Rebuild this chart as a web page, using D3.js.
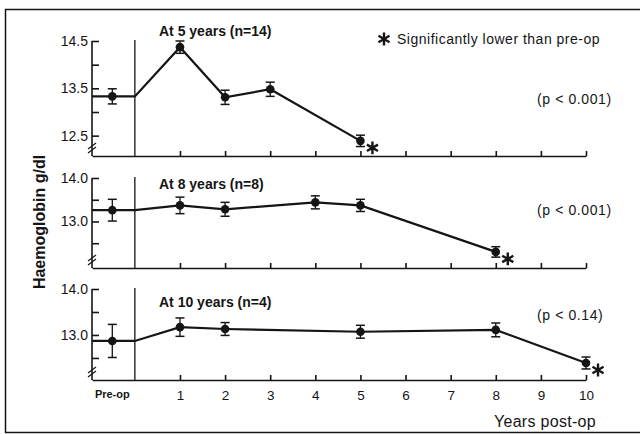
<!DOCTYPE html>
<html>
<head>
<meta charset="utf-8">
<script src="https://cdn.jsdelivr.net/npm/d3@7"></script>
<style>
  body { margin: 0; background: #fff; }
  svg { display: block; font-family: "Liberation Sans", Arial, sans-serif; }
</style>
</head>
<body>
<svg id="chart" width="640" height="434"></svg>
<script>
// x categories
const xTicks = [1, 2, 3, 4, 5, 6, 7, 8, 9, 10];
const preLabel = 'Pre-op';

// panel 1: at 5 years (n=14)
const p1Years = [1, 2, 3, 5];
const p1Mean = [14.37, 13.31, 13.48, 12.39];
const p1Err = [0.13, 0.15, 0.15, 0.12];
const p1Pre = [13.33, 0.16];

// panel 2: at 8 years (n=8)
const p2Years = [1, 2, 4, 5, 8];
const p2Mean = [13.37, 13.28, 13.44, 13.37, 12.30];
const p2Err = [0.19, 0.16, 0.15, 0.14, 0.12];
const p2Pre = [13.26, 0.25];

// panel 3: at 10 years (n=4)
const p3Years = [1, 2, 5, 8, 10];
const p3Mean = [13.17, 13.13, 13.07, 13.11, 12.39];
const p3Err = [0.20, 0.14, 0.14, 0.15, 0.13];
const p3Pre = [12.87, 0.36];

const titles = ['At 5 years (n=14)', 'At 8 years (n=8)', 'At 10 years (n=4)'];
const pValues = ['(p < 0.001)', '(p < 0.001)', '(p < 0.14)'];

const svg = d3.select('#chart');
const ink = '#151515';

// frame (right side runs off the page)
svg.append('path')
  .attr('d', 'M660,9.5H5.5V432.5H660')
  .attr('fill', 'none').attr('stroke', ink).attr('stroke-width', 1.5);

const x = d3.scaleLinear().domain([-0.95, 10]).range([92, 586]);

const panels = [
  { years: p1Years, mean: p1Mean, err: p1Err, pre: p1Pre, dom: [12.07, 14.5], rng: [156, 41],
    ticks: [12.5, 13, 13.5, 14, 14.5], labels: [12.5, 13.5, 14.5], star: 5, titleY: 36, pY: 104 },
  { years: p2Years, mean: p2Mean, err: p2Err, pre: p2Pre, dom: [11.93, 14.0], rng: [268, 178],
    ticks: [12.5, 13, 13.5, 14], labels: [13, 14], star: 8, titleY: 189, pY: 215 },
  { years: p3Years, mean: p3Mean, err: p3Err, pre: p3Pre, dom: [12.02, 14.0], rng: [380, 289],
    ticks: [12.5, 13, 13.5, 14], labels: [13, 14], star: 10, titleY: 307, pY: 320 }
];

const starSym = d3.symbol().type(d3.symbolAsterisk).size(115);

panels.forEach((p, i) => {
  const y = d3.scaleLinear().domain(p.dom).range(p.rng);
  const g = svg.append('g');
  const bottom = p.rng[0];
  const top = p.rng[1];

  // y axis, ticks point inwards
  const yAxis = d3.axisLeft(y).tickValues(p.ticks).tickSizeInner(-7).tickSizeOuter(0)
    .tickPadding(4)
    .tickFormat(d => (p.labels.includes(d) ? d3.format('.1f')(d) : ''));
  const ya = g.append('g').attr('transform', `translate(${x.range()[0]},0)`).call(yAxis);
  ya.select('.domain').attr('d', `M0,${top}V${bottom}`).attr('stroke-width', 1.6).attr('stroke', ink);
  ya.selectAll('.tick line').attr('stroke-width', 1.6).attr('stroke', ink);
  ya.selectAll('.tick text').attr('font-size', 14).attr('fill', ink);

  // axis break
  [0, 4].forEach(o => {
    g.append('line')
      .attr('x1', 88).attr('y1', bottom - 6 - o + 3)
      .attr('x2', 96).attr('y2', bottom - 6 - o - 3)
      .attr('stroke', ink).attr('stroke-width', 1.2);
  });

  // x axis
  const xAxis = d3.axisBottom(x).tickValues(xTicks).tickSizeInner(-5).tickSizeOuter(0)
    .tickPadding(10)
    .tickFormat(i === 2 ? d3.format('d') : '');
  const xa = g.append('g').attr('transform', `translate(0,${bottom})`).call(xAxis);
  xa.select('.domain').attr('stroke-width', 1.6).attr('stroke', ink);
  xa.selectAll('.tick line').attr('stroke-width', 1.6).attr('stroke', ink);
  xa.selectAll('.tick text').attr('font-size', 13.5).attr('fill', ink);

  if (i === 2) {
    g.append('text').attr('x', x(-0.5)).attr('y', bottom + 18)
      .attr('text-anchor', 'middle').attr('font-size', 11).attr('font-weight', 'bold')
      .attr('fill', ink).text(preLabel);
  }

  // pre-op separator
  g.append('line').attr('x1', x(0)).attr('x2', x(0)).attr('y1', top - 1).attr('y2', bottom)
    .attr('stroke', ink).attr('stroke-width', 1.3);

  // data line
  const pts = [[x.domain()[0], p.pre[0]], [0, p.pre[0]]]
    .concat(p.years.map((yr, k) => [yr, p.mean[k]]));
  g.append('path')
    .attr('d', d3.line().x(d => x(d[0])).y(d => y(d[1]))(pts))
    .attr('fill', 'none').attr('stroke', ink).attr('stroke-width', 2.2);

  // points with error bars
  const dots = [{ xv: -0.5, m: p.pre[0], e: p.pre[1] }]
    .concat(p.years.map((yr, k) => ({ xv: yr, m: p.mean[k], e: p.err[k] })));
  dots.forEach(d => {
    const cx = x(d.xv);
    g.append('line').attr('x1', cx).attr('x2', cx)
      .attr('y1', y(d.m - d.e)).attr('y2', y(d.m + d.e))
      .attr('stroke', ink).attr('stroke-width', 1.3);
    [d.m - d.e, d.m + d.e].forEach(v => {
      g.append('line').attr('x1', cx - 4.5).attr('x2', cx + 4.5)
        .attr('y1', y(v)).attr('y2', y(v))
        .attr('stroke', ink).attr('stroke-width', 1.5);
    });
    g.append('circle').attr('cx', cx).attr('cy', y(d.m)).attr('r', 4.3).attr('fill', ink);
  });

  // significance star
  const k = p.years.indexOf(p.star);
  g.append('path')
    .attr('d', starSym())
    .attr('transform', `translate(${x(p.star) + 12},${y(p.mean[k]) + 7})`)
    .attr('fill', 'none').attr('stroke', ink).attr('stroke-width', 2.4);

  // titles and p values
  g.append('text').attr('x', 159).attr('y', p.titleY)
    .attr('font-size', 14).attr('font-weight', 'bold').attr('fill', ink).text(titles[i]);
  g.append('text').attr('x', 537).attr('y', p.pY)
    .attr('font-size', 14).attr('letter-spacing', 0.6).attr('fill', ink).text(pValues[i]);
});

// legend
svg.append('path')
  .attr('d', starSym())
  .attr('transform', 'translate(384,39)')
  .attr('fill', 'none').attr('stroke', ink).attr('stroke-width', 2.4);
svg.append('text').attr('x', 397).attr('y', 44)
  .attr('font-size', 14).attr('letter-spacing', 0.5).attr('fill', ink)
  .text('Significantly lower than pre-op');

// axis titles
svg.append('text')
  .attr('transform', 'translate(45,222) rotate(-90)')
  .attr('text-anchor', 'middle').attr('font-size', 16).attr('font-weight', 'bold')
  .attr('fill', ink).text('Haemoglobin g/dl');
svg.append('text').attr('x', 596).attr('y', 427)
  .attr('text-anchor', 'end').attr('font-size', 16).attr('letter-spacing', 0.3)
  .attr('fill', ink).text('Years post-op');
</script>
</body>
</html>
